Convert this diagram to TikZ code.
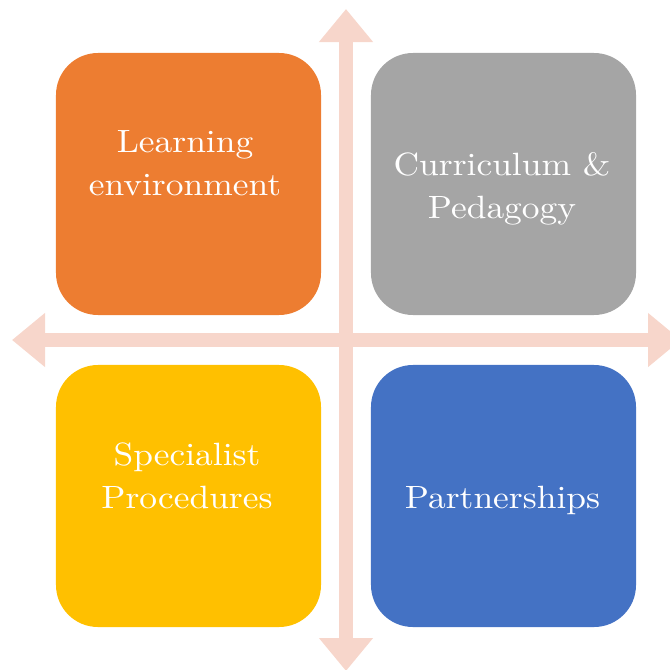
\documentclass[tikz,border=0pt]{standalone}
\usepackage{fontspec}
\setmainfont{lmroman10-regular.otf}[FakeStretch=1.1]
\usepackage{tikz}
\usetikzlibrary{arrows.meta,positioning}
\definecolor{axiscol}{RGB}{247,214,203}
\definecolor{lrncol}{RGB}{237,125,49}
\definecolor{curcol}{RGB}{165,165,165}
\definecolor{spccol}{RGB}{255,192,0}
\definecolor{prtcol}{RGB}{68,114,196}

\begin{document}
\begin{tikzpicture}[x=0.03cm,y=-0.03cm,
  box/.style={rounded corners=1.26cm,minimum width=7.95cm,minimum height=7.86cm,inner sep=0pt},
  lbl/.style={text=white,align=center,font=\fontsize{27.5}{36.5}\selectfont},
  head/.tip={Triangle[length=0.99cm,width=1.56cm]},
  axis/.style={line width=0.42cm,draw=axiscol,head-head}]
\useasboundingbox (0,0) rectangle (670,670);
\clip (0,0) rectangle (670,670);
% the two axes
\coordinate (top) at (346,9);
\coordinate (bot) at (346,671);
\coordinate (lft) at (12,340);
\coordinate (rgt) at (681,340);
\draw[axis](bot)--(top);
\draw[axis](lft)--(rgt);
% the four quarters
\node[box,fill=lrncol](lrn) at (188.5,184){};
\node[box,fill=curcol](cur) at (503.5,184){};
\node[box,fill=spccol](spc) at (188.5,496){};
\node[box,fill=prtcol](prt) at (503.5,496){};
\node[lbl](lrntxt) at (185,163.5){Learning\\environment};
\node[lbl](curtxt) at (502,189){Curriculum \&\\Pedagogy};
\node[lbl](spctxt) at (187,475.5){Specialist\\Procedures};
\node[lbl](prttxt) at (502.5,500){Partnerships};
\end{tikzpicture}
\end{document}
